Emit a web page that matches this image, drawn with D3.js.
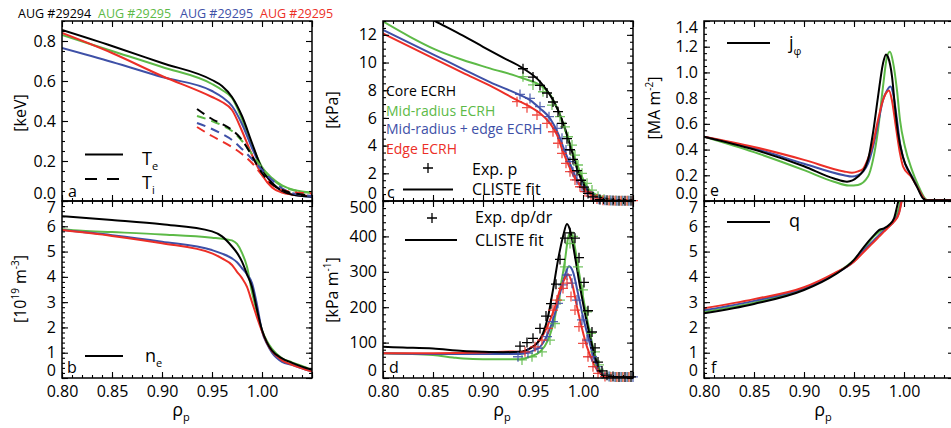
<!DOCTYPE html>
<html>
<head>
<meta charset="utf-8">
<script src="https://cdn.jsdelivr.net/npm/d3@7"></script>
<style>
  body { margin: 0; background: #fff; }
  svg text { font-family: "Open Sans", "Noto Sans", sans-serif; }
</style>
</head>
<body>
<svg id="chart" width="951" height="428"></svg>
<script>
// ---- data ----
var shots = ["AUG #29294", "AUG #29295", "AUG #29295", "AUG #29295"];
var scenarios = ["Core ECRH", "Mid-radius ECRH", "Mid-radius + edge ECRH", "Edge ECRH"];
var xTickValues = [0.80, 0.85, 0.90, 0.95, 1.00, 1.05];
var xTickLabels = ["0.80", "0.85", "0.90", "0.95", "1.00"];

// (a) electron / ion temperature [keV]
var teBlack = [[0.80,0.855],[0.85,0.775],[0.90,0.69],[0.95,0.605],[0.96,0.575],[0.97,0.52],[0.98,0.425],[0.99,0.29],[1.00,0.16],[1.01,0.09],[1.02,0.05],[1.03,0.032],[1.04,0.025],[1.05,0.022]];
var teGreen = [[0.80,0.83],[0.85,0.75],[0.90,0.67],[0.95,0.585],[0.96,0.555],[0.97,0.515],[0.98,0.41],[0.99,0.28],[1.00,0.17],[1.01,0.115],[1.02,0.078],[1.03,0.058],[1.04,0.048],[1.05,0.043]];
var teBlue  = [[0.80,0.765],[0.85,0.695],[0.90,0.62],[0.95,0.55],[0.96,0.52],[0.97,0.475],[0.98,0.385],[0.99,0.265],[1.00,0.16],[1.01,0.09],[1.02,0.05],[1.03,0.032],[1.04,0.025],[1.05,0.02]];
var teRed   = [[0.80,0.84],[0.85,0.74],[0.90,0.625],[0.95,0.52],[0.96,0.495],[0.97,0.455],[0.98,0.35],[0.99,0.23],[1.00,0.13],[1.01,0.068],[1.02,0.042],[1.03,0.032],[1.04,0.027],[1.05,0.025]];
var tiBlack = [[0.935,0.46],[0.95,0.41],[0.96,0.385],[0.97,0.355],[0.98,0.305],[0.99,0.225],[1.00,0.14],[1.01,0.085],[1.02,0.055],[1.03,0.04],[1.04,0.033],[1.05,0.03]];
var tiGreen = [[0.935,0.425],[0.95,0.40],[0.96,0.378],[0.97,0.35],[0.98,0.30],[0.99,0.235],[1.00,0.165],[1.01,0.11],[1.02,0.075],[1.03,0.056],[1.04,0.046],[1.05,0.04]];
var tiBlue  = [[0.935,0.39],[0.95,0.36],[0.96,0.335],[0.97,0.305],[0.98,0.26],[0.99,0.21],[1.00,0.155],[1.01,0.105],[1.02,0.063],[1.03,0.04],[1.04,0.03],[1.05,0.025]];
var tiRed   = [[0.935,0.37],[0.95,0.325],[0.96,0.298],[0.97,0.27],[0.98,0.235],[0.99,0.19],[1.00,0.13],[1.01,0.08],[1.02,0.055],[1.03,0.045],[1.04,0.04],[1.05,0.038]];

// (b) electron density [1e19 m^-3]
var neBlack = [[0.80,6.4],[0.85,6.25],[0.90,6.08],[0.95,5.8],[0.96,5.6],[0.97,5.2],[0.975,4.95],[0.98,4.6],[0.985,4.1],[0.99,3.6],[0.995,2.7],[1.00,1.9],[1.005,1.4],[1.01,1.08],[1.02,0.78],[1.03,0.6],[1.04,0.45],[1.05,0.32]];
var neGreen = [[0.80,5.88],[0.82,5.82],[0.85,5.77],[0.90,5.68],[0.95,5.55],[0.965,5.48],[0.97,5.44],[0.975,5.3],[0.98,4.95],[0.985,4.4],[0.99,3.4],[0.995,2.6],[1.00,1.9],[1.005,1.45],[1.01,1.15],[1.02,0.78],[1.03,0.62],[1.04,0.48],[1.05,0.32]];
var neBlue  = [[0.80,5.85],[0.85,5.65],[0.90,5.39],[0.95,5.06],[0.96,4.92],[0.97,4.73],[0.975,4.58],[0.98,4.34],[0.985,4.1],[0.99,3.75],[0.995,2.9],[1.00,1.85],[1.005,1.35],[1.01,1.0],[1.02,0.64],[1.03,0.52],[1.04,0.38],[1.05,0.25]];
var neRed   = [[0.80,5.85],[0.85,5.62],[0.90,5.33],[0.95,4.93],[0.96,4.73],[0.97,4.47],[0.975,4.2],[0.98,3.95],[0.985,3.6],[0.99,3.0],[0.995,2.4],[1.00,1.85],[1.005,1.38],[1.01,1.06],[1.02,0.7],[1.03,0.52],[1.04,0.38],[1.05,0.25]];

// (c) pressure [kPa]: CLISTE fits and experimental points
var pBlack = [[0.83,13.85],[0.852,13.0],[0.88,11.94],[0.90,11.14],[0.92,10.35],[0.94,9.58],[0.957,8.62],[0.967,7.65],[0.975,6.57],[0.982,5.25],[0.989,3.56],[0.995,2.12],[1.002,1.03],[1.010,0.43],[1.020,0.19],[1.03,0.08],[1.04,0.05],[1.05,0.04]];
var pGreen = [[0.80,12.97],[0.827,11.86],[0.852,10.95],[0.88,10.18],[0.907,9.58],[0.94,8.86],[0.96,8.21],[0.967,7.7],[0.977,6.21],[0.985,4.53],[0.992,3.08],[0.999,1.75],[1.005,0.92],[1.014,0.43],[1.025,0.15],[1.035,0.07],[1.05,0.05]];
var pBlue  = [[0.80,12.35],[0.852,10.52],[0.88,9.53],[0.907,8.59],[0.937,7.65],[0.947,7.29],[0.957,6.69],[0.967,5.97],[0.975,4.89],[0.982,3.56],[0.989,2.36],[0.995,1.39],[1.004,0.67],[1.014,0.31],[1.025,0.12],[1.035,0.06],[1.05,0.04]];
var pRed   = [[0.80,12.1],[0.852,10.25],[0.88,9.26],[0.907,8.33],[0.934,7.29],[0.947,6.81],[0.957,6.33],[0.967,5.61],[0.974,4.77],[0.980,3.56],[0.987,2.36],[0.994,1.39],[1.002,0.79],[1.012,0.31],[1.025,0.1],[1.035,0.05],[1.05,0.04]];
var expPBlack = [[0.940,9.55],[0.950,8.95],[0.957,8.35],[0.964,7.8],[0.970,7.15],[0.975,6.45],[0.979,5.6],[0.984,4.5],[0.987,3.7],[0.990,3.0],[0.994,2.2],[0.998,1.5],[1.001,1.0],[1.005,0.55],[1.010,0.3],[1.017,0.1],[1.024,0.05],[1.030,0.03],[1.036,0.02],[1.042,0.02],[1.048,0.02]];
var expPGreen = [[0.940,8.98],[0.950,8.38],[0.960,7.89],[0.969,6.93],[0.977,6.09],[0.982,5.36],[0.985,4.64],[0.989,4.04],[0.992,3.32],[0.995,2.6],[0.999,2.0],[1.004,1.28],[1.009,0.79],[1.015,0.35],[1.021,0.12],[1.027,0.05],[1.033,0.03],[1.039,0.02],[1.045,0.02]];
var expPBlue  = [[0.937,7.7],[0.947,7.41],[0.957,6.81],[0.966,6.09],[0.974,5.25],[0.979,4.53],[0.983,3.68],[0.987,2.84],[0.990,2.12],[0.994,1.52],[0.999,1.03],[1.004,0.67],[1.010,0.3],[1.016,0.12],[1.022,0.05],[1.028,0.03],[1.034,0.02],[1.040,0.02],[1.046,0.02]];
var expPRed   = [[0.934,7.17],[0.944,6.74],[0.954,6.21],[0.964,5.61],[0.970,5.0],[0.975,4.17],[0.979,3.44],[0.983,2.72],[0.987,2.12],[0.992,1.52],[0.997,1.03],[1.002,0.67],[1.008,0.35],[1.014,0.15],[1.020,0.06],[1.026,0.03],[1.032,0.02],[1.038,0.02],[1.044,0.02],[1.050,0.02]];

// (d) pressure gradient [kPa m^-1]
var dpBlack = [[0.80,88],[0.82,86],[0.85,83],[0.88,76],[0.90,74],[0.92,73],[0.937,74],[0.947,84],[0.954,98],[0.960,126],[0.965,173],[0.970,249],[0.975,333],[0.980,400],[0.984,435],[0.987,418],[0.992,343],[0.997,258],[1.002,183],[1.007,117],[1.012,60],[1.017,18],[1.020,5],[1.025,0],[1.05,0]];
var dpGreen = [[0.80,70],[0.85,65],[0.87,58],[0.88,55],[0.90,53],[0.937,53],[0.947,60],[0.957,74],[0.965,107],[0.972,173],[0.977,249],[0.982,333],[0.985,395],[0.987,412],[0.990,395],[0.995,316],[1.000,230],[1.005,154],[1.010,88],[1.015,37],[1.020,8],[1.025,0],[1.05,0]];
var dpBlue  = [[0.80,70],[0.85,68],[0.90,68],[0.937,68],[0.947,74],[0.957,88],[0.965,126],[0.972,183],[0.977,239],[0.982,291],[0.986,316],[0.990,300],[0.995,239],[1.000,173],[1.005,117],[1.010,65],[1.015,27],[1.020,8],[1.025,0],[1.05,0]];
var dpRed   = [[0.80,70],[0.85,70],[0.90,72],[0.93,75],[0.937,74],[0.947,84],[0.957,107],[0.965,150],[0.972,201],[0.977,249],[0.982,282],[0.985,293],[0.989,268],[0.994,201],[0.999,140],[1.004,88],[1.009,51],[1.014,23],[1.019,8],[1.025,0],[1.05,0]];
var expDpBlack = [[0.937,90],[0.944,100],[0.950,112],[0.957,140],[0.963,175],[0.968,210],[0.973,265],[0.977,335],[0.982,395],[0.987,410],[0.992,395],[0.996,340],[1.001,270],[1.005,190],[1.009,130],[1.012,85],[1.015,45],[1.019,20],[1.024,8],[1.030,4],[1.036,3],[1.042,3],[1.048,3]];
var expDpGreen = [[0.939,51],[0.949,60],[0.959,74],[0.967,107],[0.972,154],[0.977,220],[0.982,314],[0.987,380],[0.990,400],[0.995,314],[1.000,249],[1.004,187],[1.008,126],[1.012,74],[1.016,37],[1.020,13],[1.027,4],[1.033,3],[1.039,3],[1.045,3]];
var expDpBlue  = [[0.935,60],[0.945,70],[0.955,84],[0.964,117],[0.970,159],[0.975,211],[0.980,263],[0.984,291],[0.989,268],[0.994,220],[0.999,164],[1.004,107],[1.009,60],[1.014,32],[1.019,13],[1.026,4],[1.032,3],[1.038,3],[1.044,3],[1.050,3]];
var expDpRed   = [[0.942,74],[0.952,88],[0.959,107],[0.965,140],[0.970,192],[0.974,220],[0.980,253],[0.984,268],[0.988,230],[0.992,192],[0.996,145],[1.000,98],[1.005,60],[1.010,32],[1.015,13],[1.022,4],[1.028,3],[1.034,3],[1.040,3],[1.046,3]];

// (e) toroidal current density [MA m^-2]
var jBlack = [[0.80,0.50],[0.85,0.40],[0.90,0.27],[0.93,0.175],[0.943,0.15],[0.954,0.19],[0.964,0.32],[0.969,0.53],[0.974,0.81],[0.979,1.07],[0.982,1.14],[0.984,1.12],[0.988,0.97],[0.991,0.73],[0.994,0.53],[0.999,0.34],[1.006,0.215],[1.013,0.11],[1.019,0.02],[1.022,0.005],[1.05,0.005]];
var jGreen = [[0.80,0.50],[0.85,0.38],[0.90,0.24],[0.93,0.15],[0.945,0.12],[0.954,0.125],[0.964,0.19],[0.969,0.32],[0.974,0.55],[0.979,0.89],[0.983,1.12],[0.986,1.16],[0.989,1.08],[0.993,0.86],[0.996,0.63],[1.001,0.42],[1.008,0.24],[1.014,0.125],[1.021,0.02],[1.024,0.005],[1.05,0.005]];
var jBlue  = [[0.80,0.50],[0.85,0.41],[0.90,0.29],[0.94,0.2],[0.948,0.19],[0.954,0.2],[0.964,0.29],[0.969,0.42],[0.974,0.60],[0.979,0.785],[0.983,0.86],[0.9865,0.89],[0.989,0.84],[0.993,0.63],[0.996,0.45],[1.001,0.29],[1.008,0.19],[1.014,0.1],[1.020,0.02],[1.023,0.005],[1.05,0.005]];
var jRed   = [[0.80,0.50],[0.85,0.42],[0.90,0.32],[0.94,0.23],[0.948,0.22],[0.954,0.23],[0.959,0.25],[0.964,0.33],[0.969,0.45],[0.974,0.63],[0.979,0.785],[0.983,0.85],[0.985,0.86],[0.988,0.78],[0.992,0.57],[0.996,0.37],[0.999,0.27],[1.008,0.18],[1.014,0.1],[1.020,0.02],[1.023,0.005],[1.05,0.005]];

// (f) safety factor q
var qBlack = [[0.80,2.56],[0.85,2.93],[0.90,3.48],[0.93,4.07],[0.95,4.67],[0.96,5.19],[0.97,5.65],[0.975,5.85],[0.98,5.92],[0.985,6.05],[0.99,6.31],[0.993,6.77],[0.996,7.3]];
var qGreen = [[0.80,2.62],[0.85,2.98],[0.90,3.52],[0.93,4.1],[0.95,4.67],[0.96,5.12],[0.97,5.6],[0.975,5.78],[0.98,5.88],[0.985,6.02],[0.99,6.25],[0.994,6.6],[0.998,7.3]];
var qBlue  = [[0.80,2.68],[0.85,3.05],[0.90,3.56],[0.93,4.1],[0.95,4.62],[0.96,5.05],[0.97,5.45],[0.975,5.65],[0.98,5.83],[0.985,6.0],[0.99,6.2],[0.995,6.55],[0.999,7.3]];
var qRed   = [[0.80,2.76],[0.85,3.12],[0.90,3.59],[0.93,4.14],[0.95,4.6],[0.96,4.99],[0.97,5.39],[0.975,5.59],[0.98,5.79],[0.985,5.98],[0.99,6.18],[0.995,6.51],[0.999,7.3]];

var yTicksA = [0, 0.2, 0.4, 0.6, 0.8];
var yTicksB = [0, 1, 2, 3, 4, 5, 6, 7];
var yTicksC = [0, 2, 4, 6, 8, 10, 12];
var yTicksD = [0, 100, 200, 300, 400, 500];
var yTicksE = [0, 0.2, 0.4, 0.6, 0.8, 1.0, 1.2, 1.4];
var yTicksF = [0, 1, 2, 3, 4, 5, 6, 7];

// ---- drawing ----
var colors = { black: "#000000", green: "#5dba47", blue: "#3e50a7", red: "#ec2f27" };
var lineWidth = 2;
var svg = d3.select("#chart");
var xDomain = [0.80, 1.05];
var xMinor = d3.range(0.80, 1.0501, 0.01);

function panel(o) {
    var x = d3.scaleLinear().domain(xDomain).range([o.left, o.left + 250]);
    var y = d3.scaleLinear().domain(o.yDomain).range([o.bottom, o.top]);
    var g = svg.append("g");

    g.append("clipPath").attr("id", "clip-" + o.id)
        .append("rect")
        .attr("x", o.left).attr("y", o.top)
        .attr("width", 250).attr("height", o.bottom - o.top);

    var line = d3.line()
        .x(function (d) { return x(d[0]); })
        .y(function (d) { return y(d[1]); })
        .curve(d3.curveMonotoneX);

    // curves
    o.series.forEach(function (s) {
        g.append("path")
            .datum(s.data)
            .attr("clip-path", "url(#clip-" + o.id + ")")
            .attr("d", line)
            .style("fill", "none")
            .style("stroke", colors[s.color])
            .style("stroke-width", lineWidth + "px")
            .style("stroke-dasharray", s.dash ? "9,6" : null);
    });

    // experimental points as "+" symbols
    (o.points || []).forEach(function (s) {
        g.selectAll(null)
            .data(s.data)
            .enter().append("path")
            .attr("transform", function (d) { return "translate(" + x(d[0]) + "," + y(d[1]) + ")"; })
            .attr("d", "M-5,0H5M0,-5V5")
            .style("fill", "none")
            .style("stroke", colors[s.color])
            .style("stroke-opacity", s.color == "black" ? 1 : 0.85)
            .style("stroke-width", "1.3px");
    });

    // axes, ticks pointing inwards on all four sides
    var fmtX = function (d, i) { return o.xLabels ? (xTickLabels[i] || "") : ""; };
    var axes = [
        [d3.axisBottom(x).tickValues(xTickValues).tickSize(-6).tickPadding(7.6).tickFormat(fmtX), o.bottom, 0],
        [d3.axisBottom(x).tickValues(xMinor).tickSize(-3).tickFormat(""), o.bottom, 0],
        [d3.axisTop(x).tickValues(xTickValues).tickSize(-6).tickFormat(""), o.top, 0],
        [d3.axisTop(x).tickValues(xMinor).tickSize(-3).tickFormat(""), o.top, 0],
        [d3.axisLeft(y).tickValues(o.yTicks).tickSize(-6).tickPadding(6).tickFormat(d3.format(o.fmt)), 0, o.left],
        [d3.axisLeft(y).tickValues(o.yMinor).tickSize(-3).tickFormat(""), 0, o.left],
        [d3.axisRight(y).tickValues(o.yTicks).tickSize(-6).tickFormat(""), 0, o.left + 250],
        [d3.axisRight(y).tickValues(o.yMinor).tickSize(-3).tickFormat(""), 0, o.left + 250]
    ];
    axes.forEach(function (a, k) {
        var ag = g.append("g")
            .attr("transform", "translate(" + a[2] + "," + a[1] + ")")
            .call(a[0]);
        ag.select(".domain").remove();
        ag.selectAll(".tick line").style("stroke", "#000").style("stroke-width", "1.1px");
        // drop the empty label nodes of the unlabelled axes
        ag.selectAll(".tick text").filter(function () { return this.textContent === ""; }).remove();
        ag.selectAll(".tick text")
            .style("font-family", "'Open Sans', sans-serif")
            .style("font-size", "16px")
            .style("fill", "#000");
        if (k == 4) {
            // end labels are pulled inside the frame, as in the original
            ag.selectAll(".tick text").attr("dy", function (d) {
                if (d == o.yDomain[0]) return "-0.18em";
                if (d == o.yDomain[1]) return "0.74em";
                return "0.32em";
            });
        }
    });

    // frame
    g.append("rect")
        .attr("x", o.left).attr("y", o.top)
        .attr("width", 250).attr("height", o.bottom - o.top)
        .style("fill", "none")
        .style("stroke", "#000")
        .style("stroke-width", "1.5px");

    // panel letter
    g.append("text")
        .attr("x", o.letterX).attr("y", o.letterY)
        .text(o.id)
        .style("font-size", "16px");

    if (o.xLabels) {
        var t = g.append("text")
            .attr("x", o.left + 119).attr("y", 416)
            .attr("text-anchor", "middle")
            .style("font-size", "18px")
            .text("ρ");
        t.append("tspan").attr("dy", 5).style("font-size", "11px").text("p");
    }
    return { x: x, y: y, g: g };
}

var top1 = 21, mid = 201, bot = 378;

panel({ id: "a", left: 62, top: top1, bottom: mid, yDomain: [0, 0.9], yTicks: yTicksA, yMinor: d3.range(0, 0.9001, 0.05), fmt: ".1f",
    letterX: 68, letterY: 197,
    series: [
        { data: teGreen, color: "green" }, { data: teBlue, color: "blue" }, { data: teRed, color: "red" }, { data: teBlack, color: "black" },
        { data: tiGreen, color: "green", dash: true }, { data: tiBlue, color: "blue", dash: true }, { data: tiRed, color: "red", dash: true }, { data: tiBlack, color: "black", dash: true }
    ] });

panel({ id: "b", left: 62, top: mid, bottom: bot, yDomain: [0, 7], yTicks: yTicksB, yMinor: d3.range(0, 7.001, 0.2), fmt: "d",
    letterX: 67, letterY: 373, xLabels: true,
    series: [
        { data: neGreen, color: "green" }, { data: neBlue, color: "blue" }, { data: neRed, color: "red" }, { data: neBlack, color: "black" }
    ] });

panel({ id: "c", left: 383, top: top1, bottom: mid, yDomain: [0, 13], yTicks: yTicksC, yMinor: d3.range(0, 13.001, 0.5), fmt: "d",
    letterX: 387, letterY: 198,
    series: [
        { data: pGreen, color: "green" }, { data: pBlue, color: "blue" }, { data: pRed, color: "red" }, { data: pBlack, color: "black" }
    ],
    points: [
        { data: expPGreen, color: "green" }, { data: expPBlue, color: "blue" }, { data: expPRed, color: "red" }, { data: expPBlack, color: "black" }
    ] });

panel({ id: "d", left: 383, top: mid, bottom: bot, yDomain: [0, 500], yTicks: yTicksD, yMinor: d3.range(0, 500.1, 20), fmt: "d",
    letterX: 389, letterY: 373, xLabels: true,
    series: [
        { data: dpGreen, color: "green" }, { data: dpBlue, color: "blue" }, { data: dpRed, color: "red" }, { data: dpBlack, color: "black" }
    ],
    points: [
        { data: expDpGreen, color: "green" }, { data: expDpBlue, color: "blue" }, { data: expDpRed, color: "red" }, { data: expDpBlack, color: "black" }
    ] });

panel({ id: "e", left: 704, top: top1, bottom: mid, yDomain: [0, 1.4], yTicks: yTicksE, yMinor: d3.range(0, 1.4001, 0.05), fmt: ".1f",
    letterX: 710, letterY: 196,
    series: [
        { data: jGreen, color: "green" }, { data: jBlue, color: "blue" }, { data: jRed, color: "red" }, { data: jBlack, color: "black" }
    ] });

panel({ id: "f", left: 704, top: mid, bottom: bot, yDomain: [0, 7], yTicks: yTicksF, yMinor: d3.range(0, 7.001, 0.2), fmt: "d",
    letterX: 711, letterY: 373, xLabels: true,
    series: [
        { data: qGreen, color: "green" }, { data: qBlue, color: "blue" }, { data: qRed, color: "red" }, { data: qBlack, color: "black" }
    ] });

// ---- header: shot numbers ----
var shotColors = ["black", "green", "blue", "red"];
var shotX = [18, 98, 180, 260];
shots.forEach(function (s, i) {
    svg.append("text")
        .attr("x", shotX[i]).attr("y", 18)
        .style("font-size", "12.5px")
        .style("fill", colors[shotColors[i]])
        .text(s);
});

// ---- y-axis titles ----
function yTitle(cx, cy, parts) {
    var t = svg.append("text")
        .attr("transform", "translate(" + cx + "," + cy + ") rotate(-90)")
        .attr("text-anchor", "middle")
        .style("font-size", "16px");
    var shift = 0;
    parts.forEach(function (p) {
        var want = p.sup ? -7 : 0;
        t.append("tspan")
            .attr("dy", want - shift)
            .style("font-size", p.sup ? "10px" : "16px")
            .text(p.t);
        shift = want;
    });
}
yTitle(26, 113, [{ t: "[keV]" }]);
yTitle(26, 289, [{ t: "[10" }, { t: "19", sup: true }, { t: " m" }, { t: "-3", sup: true }, { t: "]" }]);
yTitle(338, 110, [{ t: "[kPa]" }]);
yTitle(338, 290, [{ t: "[kPa m" }, { t: "-1", sup: true }, { t: "]" }]);
yTitle(660, 108, [{ t: "[MA m" }, { t: "-2", sup: true }, { t: "]" }]);

// ---- legends ----
function legLine(x1, x2, yy, dash) {
    svg.append("line")
        .attr("x1", x1).attr("x2", x2).attr("y1", yy).attr("y2", yy)
        .style("stroke", "#000")
        .style("stroke-width", lineWidth + "px")
        .style("stroke-dasharray", dash ? "12,10" : null);
}
function legSym(cx, cy, label, sub, subDy, size) {
    var t = svg.append("text").attr("x", cx).attr("y", cy)
        .style("font-size", (size || 18) + "px").text(label);
    if (sub) t.append("tspan").attr("dy", subDy).style("font-size", "11px").text(sub);
}

// (a)
legLine(85, 123, 154.5, false);
legSym(142, 165, "T", "e", 5);
legLine(85, 119, 179, true);
legSym(142, 189, "T", "i", 5);
// (b)
legLine(85, 123, 356, false);
legSym(145, 362, "n", "e", 5);
// (c)
scenarios.forEach(function (s, i) {
    svg.append("text")
        .attr("x", 386).attr("y", [96, 116, 134, 154][i])
        .style("font-size", "14px")
        .style("fill", colors[shotColors[i]])
        .text(s);
});
svg.append("path").attr("transform", "translate(428,168)").attr("d", "M-5,0H5M0,-5V5")
    .style("stroke", "#000").style("stroke-width", "1.3px");
legSym(472, 175, "Exp. p", null, 0, 16);
legLine(403, 453, 189.5, false);
legSym(472, 195, "CLISTE fit", null, 0, 16);
// (d)
svg.append("path").attr("transform", "translate(432,218)").attr("d", "M-5,0H5M0,-5V5")
    .style("stroke", "#000").style("stroke-width", "1.3px");
legSym(475, 223, "Exp. dp/dr", null, 0, 16);
legLine(405, 457, 240, false);
legSym(475, 246, "CLISTE fit", null, 0, 16);
// (e)
legLine(727, 770, 43, false);
legSym(789, 49, "j", "φ", 6);
// (f)
legLine(727, 770, 222, false);
legSym(789, 227, "q", null, 0);
</script>
</body>
</html>
